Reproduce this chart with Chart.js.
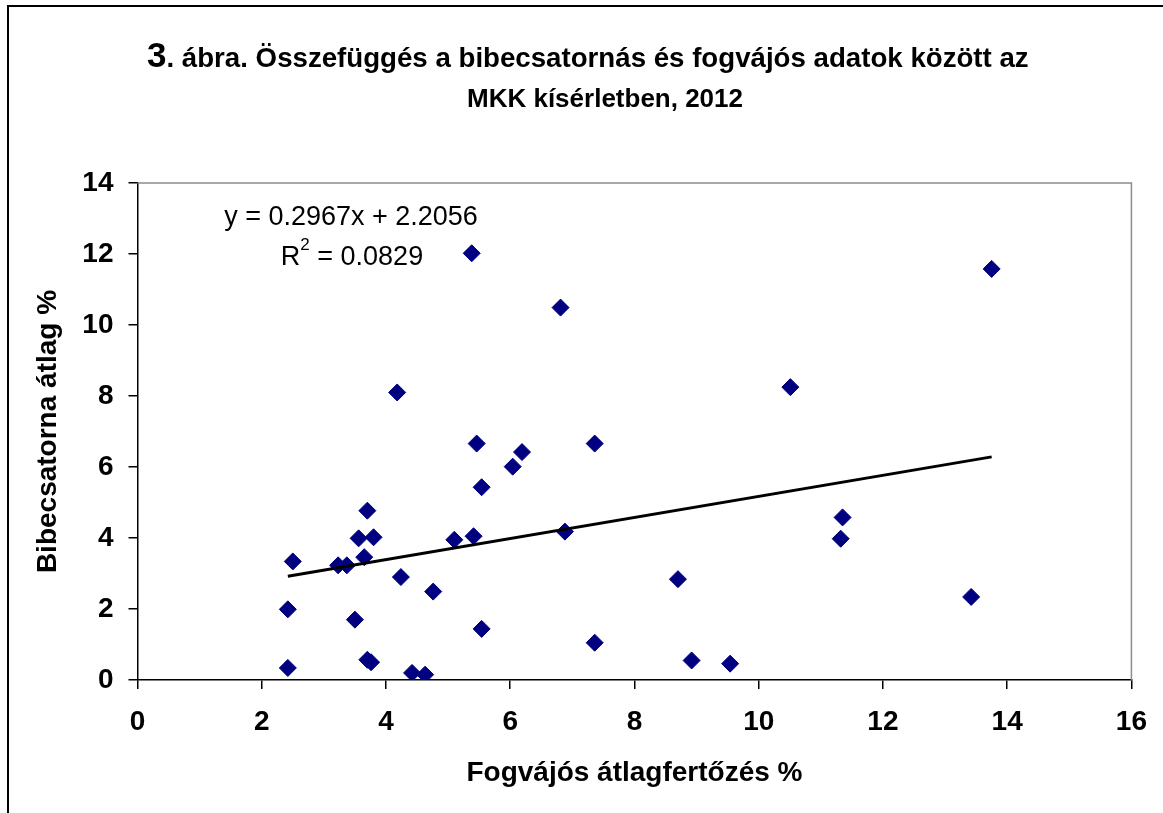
<!DOCTYPE html>
<html>
<head>
<meta charset="utf-8">
<script src="https://cdn.jsdelivr.net/npm/chart.js@4/dist/chart.umd.min.js"></script>
<style>
  html, body { margin: 0; padding: 0; background: #fff; }
  #wrap { position: relative; width: 1163px; height: 813px; }
</style>
</head>
<body>
<div id="wrap"><canvas id="c" width="1163" height="813"></canvas></div>
<script>
// ---- Data ----
const fogvajos = [5.38, 6.81, 4.18, 5.46, 7.36, 6.19, 6.04, 5.54, 3.70, 3.56, 3.80, 5.10, 5.41, 6.88, 2.50, 3.23, 3.37, 3.65, 4.24, 4.76, 2.42, 3.50, 5.54, 7.36, 2.42, 3.70, 3.76, 4.42, 4.63, 13.75, 10.51, 11.35, 11.32, 8.70, 13.42, 8.92, 9.54];
const bibecsatorna = [12.02, 10.49, 8.10, 6.66, 6.66, 6.42, 6.01, 5.43, 4.77, 3.99, 4.02, 3.95, 4.05, 4.18, 3.34, 3.23, 3.23, 3.46, 2.90, 2.49, 1.99, 1.70, 1.44, 1.05, 0.34, 0.57, 0.50, 0.20, 0.15, 11.58, 8.25, 4.58, 3.98, 2.84, 2.34, 0.55, 0.46];
const trendSlope = 0.2967;
const trendIntercept = 2.2056;
const xTicks = [0, 2, 4, 6, 8, 10, 12, 14, 16];
const yTicks = [0, 2, 4, 6, 8, 10, 12, 14];
const titleNumber = '3';
const titleLine1 = '. ábra. Összefüggés a bibecsatornás és fogvájós adatok között az';
const titleLine2 = 'MKK kísérletben, 2012';
const eqText = 'y = 0.2967x + 2.2056';
const r2Label = 'R';
const r2Value = ' = 0.0829';
const xTitle = 'Fogvájós átlagfertőzés %';
const yTitle = 'Bibecsatorna átlag %';

const points = fogvajos.map((x, i) => ({ x: x, y: bibecsatorna[i] }));
const xMinData = Math.min(...fogvajos);
const xMaxData = Math.max(...fogvajos);
const trendPoints = [xMinData, xMaxData].map(x => ({ x: x, y: trendSlope * x + trendIntercept }));

const FONT = '"Liberation Sans", Arial, sans-serif';

const decorPlugin = {
  id: 'decor',
  beforeDraw(chart) {
    const ctx = chart.ctx;
    ctx.save();
    ctx.fillStyle = '#fff';
    ctx.fillRect(0, 0, chart.width, chart.height);
    ctx.strokeStyle = '#000';
    ctx.lineWidth = 2;
    ctx.beginPath();
    ctx.moveTo(8, chart.height + 5);
    ctx.lineTo(8, 6);
    ctx.lineTo(chart.width + 5, 6);
    ctx.stroke();
    ctx.fillStyle = '#000';
    ctx.textBaseline = 'alphabetic';
    const left1 = 147, right1 = 1029;
    const f1 = 'bold 35px ' + FONT;
    ctx.font = f1; const w1 = ctx.measureText(titleNumber).width;
    ctx.font = 'bold 26px ' + FONT; const w2 = ctx.measureText(titleLine1).width;
    const size1 = Math.min(30, 26 * (right1 - left1 - w1) / w2);
    ctx.textAlign = 'left';
    ctx.font = f1; ctx.fillText(titleNumber, left1, 67);
    ctx.font = 'bold ' + size1.toFixed(2) + 'px ' + FONT;
    ctx.fillText(titleLine1, left1 + w1, 67);
    ctx.font = 'bold 26px ' + FONT;
    ctx.textAlign = 'center';
    ctx.fillText(titleLine2, 605, 107);
    ctx.restore();
  },
  beforeDatasetsDraw(chart) {
    const ctx = chart.ctx;
    const a = chart.chartArea;
    ctx.save();
    ctx.strokeStyle = '#8c8c8c';
    ctx.lineWidth = 1.5;
    ctx.beginPath();
    ctx.moveTo(a.left, a.top);
    ctx.lineTo(a.right, a.top);
    ctx.lineTo(a.right, a.bottom);
    ctx.stroke();
    ctx.restore();
  },
  afterDatasetsDraw(chart) {
    const ctx = chart.ctx;
    ctx.save();
    ctx.fillStyle = '#000';
    ctx.font = '27px ' + FONT;
    ctx.textAlign = 'center';
    ctx.textBaseline = 'alphabetic';
    ctx.fillText(eqText, 351, 225);
    const fR = '27px ' + FONT, fS = '17px ' + FONT;
    ctx.font = fR; const wr = ctx.measureText(r2Label).width; const wv = ctx.measureText(r2Value).width;
    ctx.font = fS; const ws = ctx.measureText('2').width;
    const tot = wr + ws + wv;
    const x = 352 - tot / 2;
    ctx.textAlign = 'left';
    ctx.font = fR; ctx.fillText(r2Label, x, 265);
    ctx.font = fS; ctx.fillText('2', x + wr, 250);
    ctx.font = fR; ctx.fillText(r2Value, x + wr + ws, 265);
    ctx.restore();
  }
};

new Chart(document.getElementById('c'), {
  type: 'scatter',
  data: {
    datasets: [
      {
        label: 'Adatok',
        data: points,
        pointStyle: 'rectRot',
        pointRadius: 8.5,
        pointBackgroundColor: '#000080',
        pointBorderColor: '#000080',
        pointBorderWidth: 1,
        order: 2
      },
      {
        label: 'Trend',
        type: 'line',
        data: trendPoints,
        showLine: true,
        borderColor: '#000',
        borderWidth: 3,
        pointRadius: 0,
        fill: false,
        order: 1
      }
    ]
  },
  options: {
    responsive: false,
    animation: false,
    devicePixelRatio: 1,
    layout: { padding: { left: 0, top: 183, right: 27, bottom: 0 } },
    plugins: { legend: { display: false }, tooltip: { enabled: false }, title: { display: false } },
    scales: {
      x: {
        type: 'linear',
        min: 0, max: 16,
        afterBuildTicks: (s) => { s.ticks = xTicks.map(v => ({ value: v })); },
        afterFit: (s) => { s.height = 133; },
        border: { display: true, color: '#000', width: 1.5 },
        grid: { drawOnChartArea: false, drawTicks: true, tickLength: 9, color: '#000', lineWidth: 1.5 },
        ticks: { color: '#000', font: { family: FONT, size: 28, weight: 'bold' }, padding: 16, maxRotation: 0 },
        title: { display: true, text: xTitle, color: '#000', font: { family: FONT, size: 28, weight: 'bold' }, padding: { top: 0, bottom: 23 } }
      },
      y: {
        type: 'linear',
        min: 0, max: 14,
        afterBuildTicks: (s) => { s.ticks = yTicks.map(v => ({ value: v })); },
        afterFit: (s) => { s.width = 137.5; },
        border: { display: true, color: '#000', width: 1.5 },
        grid: { drawOnChartArea: false, drawTicks: true, tickLength: 9, color: '#000', lineWidth: 1.5 },
        ticks: { color: '#000', font: { family: FONT, size: 28, weight: 'bold' }, padding: 15 },
        title: { display: true, text: yTitle, color: '#000', font: { family: FONT, size: 28, weight: 'bold' }, padding: { top: 31, bottom: 0 } }
      }
    }
  },
  plugins: [decorPlugin]
});
</script>
</body>
</html>
